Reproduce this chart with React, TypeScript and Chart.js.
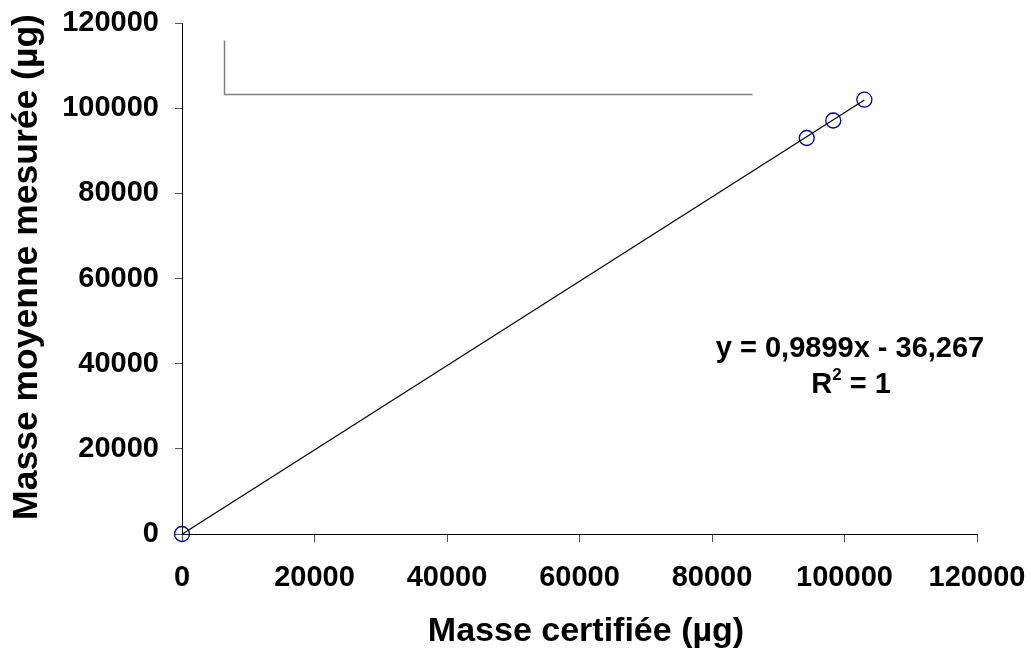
import React, { useEffect, useRef } from "react";
import { Chart, registerables } from "chart.js";

Chart.register(...registerables);

// ---- data ----
const certifiedMass = [0, 94300, 98300, 103000];
const measuredMass = [0, 93000, 97100, 102000];
const trendSlope = 0.9899;
const trendIntercept = -36.267;
const xTickValues = [0, 20000, 40000, 60000, 80000, 100000, 120000];
const yTickValues = [0, 20000, 40000, 60000, 80000, 100000, 120000];
const equationText = "y = 0,9899x - 36,267";
const r2Value = "1";
const xTitle = "Masse certifiée (µg)";
const yTitle = "Masse moyenne mesurée (µg)";
// stray legend frame lines (data units)
const frameX = [6300, 86000];
const frameY = [103300, 116000];

const FONT = "'Liberation Sans', Arial, Helvetica, sans-serif";

export default function App() {
  const canvasRef = useRef<HTMLCanvasElement | null>(null);

  useEffect(() => {
    document.body.style.margin = "0";
    const canvas = canvasRef.current;
    if (!canvas) return;

    const xMin = Math.min(...certifiedMass);
    const xMax = Math.max(...certifiedMass);
    const trendPoints = [
      { x: xMin, y: trendSlope * xMin + trendIntercept },
      { x: xMax, y: trendSlope * xMax + trendIntercept },
    ];

    const overlay = {
      id: "overlay",
      afterDraw(chart: any) {
        const ctx = chart.ctx as CanvasRenderingContext2D;
        const xs = chart.scales.x;
        const ys = chart.scales.y;
        ctx.save();
        // frame lines
        ctx.strokeStyle = "#808080";
        ctx.lineWidth = 1.5;
        ctx.beginPath();
        const fx1 = Math.round(xs.getPixelForValue(frameX[0])) + 0.5;
        const fx2 = Math.round(xs.getPixelForValue(frameX[1])) + 0.5;
        const fyTop = Math.round(ys.getPixelForValue(frameY[1])) + 0.5;
        const fyBot = Math.round(ys.getPixelForValue(frameY[0])) + 0.5;
        ctx.moveTo(fx1, fyTop);
        ctx.lineTo(fx1, fyBot);
        ctx.lineTo(fx2, fyBot);
        ctx.stroke();

        // equation
        ctx.fillStyle = "#000";
        ctx.font = `bold 29px ${FONT}`;
        ctx.textAlign = "center";
        ctx.textBaseline = "alphabetic";
        ctx.fillText(equationText, 850, 357);

        // R^2 = 1
        ctx.textAlign = "left";
        const big = `bold 29px ${FONT}`;
        const small = `bold 17px ${FONT}`;
        ctx.font = big;
        const wR = ctx.measureText("R").width;
        const rest = " = " + r2Value;
        const wRest = ctx.measureText(rest).width;
        ctx.font = small;
        const w2 = ctx.measureText("2").width;
        const total = wR + w2 + wRest;
        let sx = 851 - total / 2;
        ctx.font = big;
        ctx.fillText("R", sx, 393);
        sx += wR;
        ctx.font = small;
        ctx.fillText("2", sx, 380);
        sx += w2;
        ctx.font = big;
        ctx.fillText(rest, sx, 393);

        // axis titles
        ctx.font = `bold 34px ${FONT}`;
        ctx.textAlign = "center";
        ctx.fillText(xTitle, 586, 641);

        ctx.save();
        ctx.translate(37, 267);
        ctx.rotate(-Math.PI / 2);
        ctx.font = `bold 35.5px ${FONT}`;
        ctx.fillText(yTitle, 0, 0);
        ctx.restore();

        ctx.restore();
      },
    };

    const zeroPad = (s: any) => {
      s.paddingTop = 0;
      s.paddingBottom = 0;
      s.paddingLeft = 0;
      s.paddingRight = 0;
    };

    const chart = new Chart(canvas, {
      type: "scatter",
      data: {
        datasets: [
          {
            type: "line",
            label: "trend",
            data: trendPoints,
            borderColor: "#000",
            borderWidth: 1.2,
            pointRadius: 0,
            fill: false,
            clip: false as any,
            order: 2,
          } as any,
          {
            label: "mesures",
            data: certifiedMass.map((x, i) => ({ x, y: measuredMass[i] })),
            pointStyle: "circle",
            pointRadius: 7.5,
            pointBorderColor: "#000090",
            pointBackgroundColor: "rgba(0,0,0,0)",
            borderColor: "#000090",
            backgroundColor: "rgba(0,0,0,0)",
            pointBorderWidth: 1.3,
            showLine: false,
            clip: false as any,
            order: 1,
          } as any,
        ],
      },
      options: {
        animation: false,
        responsive: false,
        events: [],
        layout: { padding: { left: 0, right: 54, top: 23, bottom: 0 } },
        plugins: {
          legend: { display: false },
          tooltip: { enabled: false },
          title: { display: false },
        },
        scales: {
          x: {
            type: "linear",
            min: 0,
            max: 120000,
            afterBuildTicks: (s: any) => {
              s.ticks = xTickValues.map((v) => ({ value: v }));
            },
            afterFit: (s: any) => {
              s.height = 654 - 534;
              zeroPad(s);
            },
            ticks: {
              color: "#000",
              font: { family: FONT, size: 29, weight: "bold" },
              padding: 19,
              maxRotation: 0,
              callback: (v: any) => String(v),
            },
            grid: {
              drawOnChartArea: false,
              drawTicks: true,
              tickLength: 8,
              color: "#555",
            },
            border: { display: true, color: "#000", width: 1 },
            title: { display: false },
          },
          y: {
            type: "linear",
            min: 0,
            max: 120000,
            afterBuildTicks: (s: any) => {
              s.ticks = yTickValues.map((v) => ({ value: v }));
            },
            afterFit: (s: any) => {
              s.width = 182;
              zeroPad(s);
            },
            ticks: {
              color: "#000",
              font: { family: FONT, size: 29, weight: "bold" },
              padding: 16,
              callback: (v: any) => String(v),
            },
            grid: {
              drawOnChartArea: false,
              drawTicks: true,
              tickLength: 7,
              color: "#555",
            },
            border: { display: true, color: "#000", width: 1 },
            title: { display: false },
          },
        },
      },
      plugins: [overlay],
    } as any);

    return () => chart.destroy();
  }, []);

  return (
    <div style={{ width: 1031, height: 654, background: "#fff" }}>
      <canvas ref={canvasRef} width={1031} height={654} />
    </div>
  );
}
